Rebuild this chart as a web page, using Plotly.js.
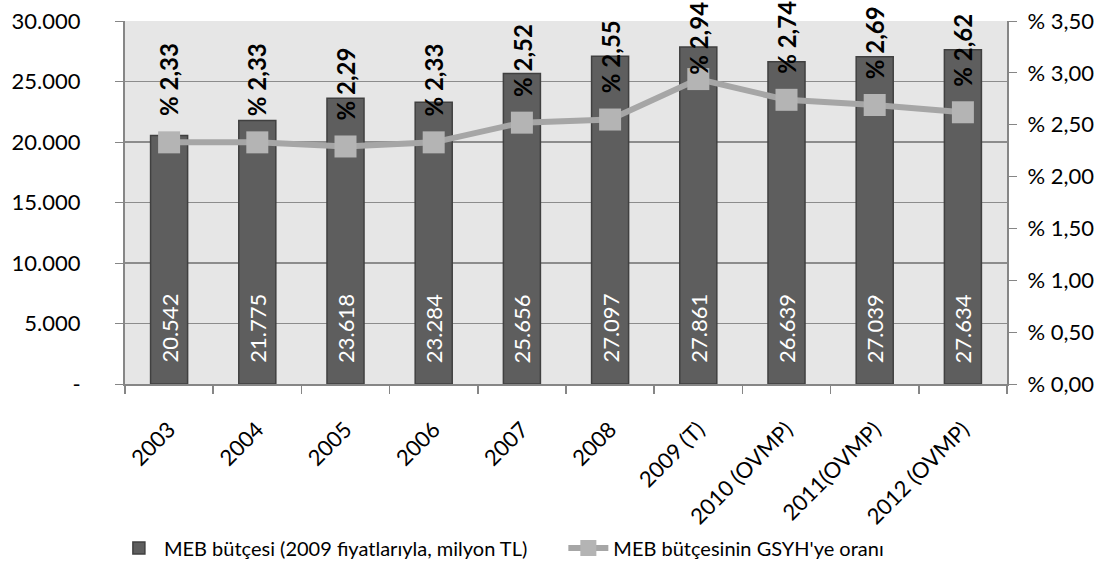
<!DOCTYPE html>
<html>
<head>
<meta charset="utf-8">
<script src="https://cdn.plot.ly/plotly-3.0.1.min.js"></script>
<style>html,body{margin:0;padding:0;background:#fff;}#chart{width:1102px;height:566px;}</style>
</head>
<body>
<div id="chart"></div>
<script>
const categories = ["2003","2004","2005","2006","2007","2008","2009 (T)","2010 (OVMP)","2011(OVMP)","2012 (OVMP)"];
const budget = [20542, 21775, 23618, 23284, 25656, 27097, 27861, 26639, 27039, 27634];
const ratio = [2.33, 2.33, 2.29, 2.33, 2.52, 2.55, 2.94, 2.74, 2.69, 2.62];
const leftTickVals = [0, 5000, 10000, 15000, 20000, 25000, 30000];
const leftTickText = ["-", "5.000", "10.000", "15.000", "20.000", "25.000", "30.000"];
const rightTickVals = [0, 0.5, 1, 1.5, 2, 2.5, 3, 3.5];
const rightTickText = ["% 0,00", "% 0,50", "% 1,00", "% 1,50", "% 2,00", "% 2,50", "% 3,00", "% 3,50"];
const barName = "MEB bütçesi (2009 fiyatlarıyla, milyon TL)";
const lineName = "MEB bütçesinin GSYH'ye oranı";

const fmtThousands = v => String(v).replace(/\B(?=(\d{3})+(?!\d))/g, ".");
const fmtPct = v => "% " + v.toFixed(2).replace(".", ",");
const idx = categories.map((_, i) => i);

const FONT = "Lato, 'Open Sans', sans-serif";
const M = {l: 125, r: 95, t: 21, b: 182};
const H = 566;
const plotH = H - M.t - M.b;
const Y2MAX = 3.5;
const LABEL_LEN = 70;
const LABEL_SHIFT = 24;

const traces = [
  {
    type: "bar", x: idx, y: budget, name: barName, legend: "legend",
    marker: {color: "#5e5e5e", line: {color: "#404040", width: 1.5}},
    width: 0.42, hoverinfo: "none"
  },
  {
    type: "scatter", mode: "lines+markers", x: idx, y: ratio, yaxis: "y2", name: lineName, legend: "legend2",
    line: {color: "#a6a6a6", width: 6},
    marker: {symbol: "square", size: 22, color: "#b4b4b4"},
    cliponaxis: false, hoverinfo: "none"
  }
];

const annotations = [];
idx.forEach(i => {
  annotations.push({
    x: i, y: 0, xref: "x", yref: "y", text: fmtThousands(budget[i]),
    showarrow: false, textangle: -90, yanchor: "bottom", yshift: 19,
    font: {family: FONT, size: 22, color: "#ffffff"}
  });
  const labelFont = {family: FONT, size: 24, color: "#000000", weight: "bold"};
  const py = M.t + (1 - ratio[i] / Y2MAX) * plotH;
  if (py - LABEL_SHIFT - LABEL_LEN < 0) {
    // like the original, a label that would leave the chart is pinned to its top edge
    annotations.push({
      x: i, y: 1 + M.t / plotH, xref: "x", yref: "paper", text: fmtPct(ratio[i]),
      showarrow: false, textangle: -90, yanchor: "top", font: labelFont
    });
  } else {
    annotations.push({
      x: i, y: ratio[i], xref: "x", yref: "y2", text: fmtPct(ratio[i]),
      showarrow: false, textangle: -90, yanchor: "bottom", yshift: LABEL_SHIFT, font: labelFont
    });
  }
});

const legendBase = {orientation: "h", xanchor: "left", yref: "container", y: 1 - 548 / H, yanchor: "middle",
  font: {family: FONT, size: 20, color: "#000"}, itemwidth: 40, bgcolor: "rgba(0,0,0,0)"};

const layout = {
  width: 1102, height: H,
  margin: M,
  paper_bgcolor: "#ffffff", plot_bgcolor: "#e6e6e6",
  font: {family: FONT, size: 20, color: "#000"},
  showlegend: true,
  legend: Object.assign({}, legendBase, {x: -0.0126}),
  legend2: Object.assign({}, legendBase, {x: 0.497}),
  xaxis: {
    range: [-0.5, 9.5], tickvals: idx, ticktext: categories, tickangle: -45,
    ticks: "", showline: true, linecolor: "#868686", linewidth: 2,
    minor: {tick0: -0.5, dtick: 1, ticks: "outside", ticklen: 8, tickcolor: "#868686", tickwidth: 1.5, showgrid: false},
    showgrid: false, zeroline: false, tickfont: {family: FONT, size: 22}, ticklabelstandoff: 22, fixedrange: true
  },
  yaxis: {
    range: [0, 30000], tickvals: leftTickVals, ticktext: leftTickText,
    ticks: "outside", ticklen: 8, tickcolor: "#868686", showline: true, linecolor: "#868686", linewidth: 2,
    showgrid: true, gridcolor: "#8c8c8c", gridwidth: 1.5, zeroline: false,
    tickfont: {family: FONT, size: 22}, ticklabelstandoff: 30
  },
  yaxis2: {
    overlaying: "y", side: "right", range: [0, Y2MAX], tickvals: rightTickVals, ticktext: rightTickText,
    ticks: "outside", ticklen: 8, tickcolor: "#868686", showline: true, linecolor: "#868686", linewidth: 2,
    showgrid: false, zeroline: false, tickfont: {family: FONT, size: 22}, ticklabelstandoff: 6
  },
  annotations: annotations
};

Plotly.newPlot("chart", traces, layout, {displayModeBar: false, staticPlot: true});
</script>
</body>
</html>
